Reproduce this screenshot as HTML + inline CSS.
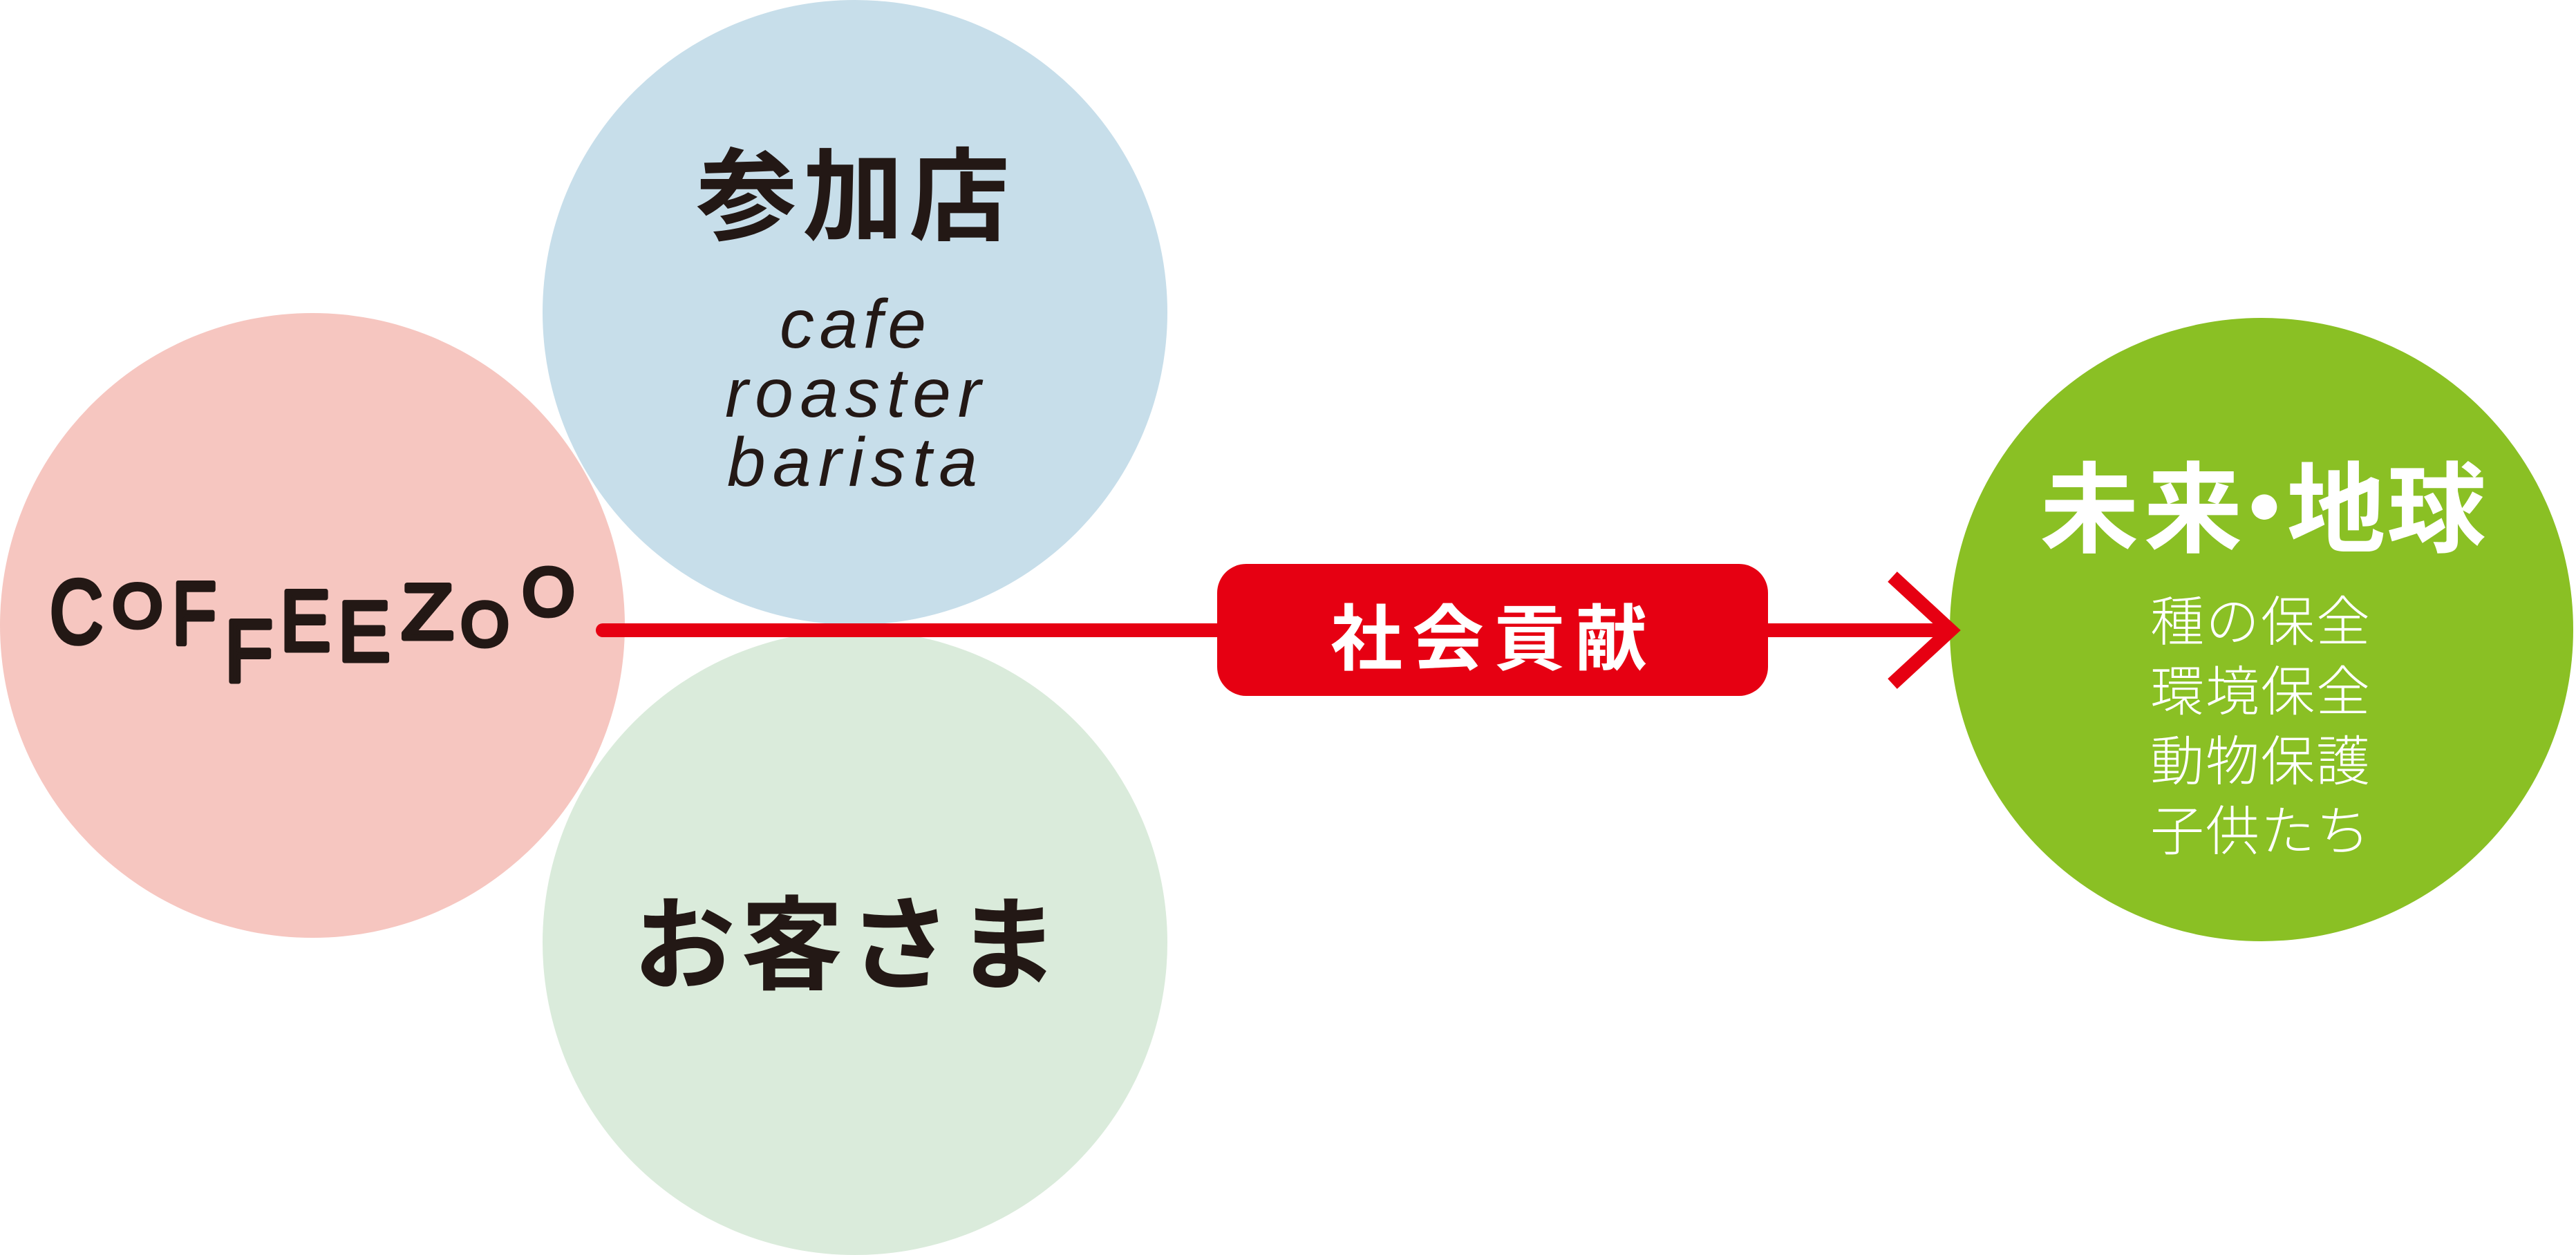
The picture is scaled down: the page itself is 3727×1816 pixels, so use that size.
<!DOCTYPE html>
<html>
<head>
<meta charset="utf-8">
<style>
  html, body { margin:0; padding:0; background:#ffffff; }
  body { width:3727px; height:1816px; overflow:hidden; }
  svg { display:block; }
  .jp { font-family: "Liberation Sans", "Noto Sans CJK JP", sans-serif; }
  .lat { font-family: "Liberation Sans", sans-serif; }
</style>
</head>
<body>
<svg width="3727" height="1816" viewBox="0 0 3727 1816" xmlns="http://www.w3.org/2000/svg">
  <rect x="0" y="0" width="3727" height="1816" fill="#ffffff"/>

  <!-- circles -->
  <circle cx="1237" cy="452" r="452" fill="#c7deea"/>
  <circle cx="452" cy="905" r="452" fill="#f6c6c0"/>
  <circle cx="1237" cy="1364" r="452" fill="#daebdb"/>
  <circle cx="3272" cy="911" r="451" fill="#8ac024"/>

  <!-- 参加店 -->
  <text class="jp" x="1238" y="336" font-size="146" font-weight="700" fill="#231815" text-anchor="middle" letter-spacing="8">参加店</text>

  <!-- cafe roaster barista -->
  <g class="lat" font-size="100" font-style="italic" fill="#231815" text-anchor="middle">
    <text x="1234" y="503" textLength="212" lengthAdjust="spacing">cafe</text>
    <text x="1234" y="603" textLength="370" lengthAdjust="spacing">roaster</text>
    <text x="1233" y="703" textLength="362" lengthAdjust="spacing">barista</text>
  </g>

  <!-- COFFEEZOO handwritten-style letters -->
  <g class="lat" font-weight="400" fill="#231815" stroke="#231815" stroke-width="7" stroke-linejoin="round" text-anchor="middle">
    <text font-size="130" transform="translate(110.5,930) scale(0.82,1)">C</text>
    <text font-size="88" transform="translate(199,907) scale(1.05,1)">O</text>
    <text font-size="128" transform="translate(281,932) scale(0.82,1)">F</text>
    <text font-size="127" transform="translate(360,986) scale(0.9,1)">F</text>
    <text font-size="124" transform="translate(442,941) scale(0.88,1)">E</text>
    <text font-size="123" transform="translate(527,956) scale(0.92,1)">E</text>
    <text font-size="112" transform="translate(618.5,924) scale(1.1,1)">Z</text>
    <text font-size="89" transform="translate(701.5,934) scale(1.0,1)">O</text>
    <text font-size="97" transform="translate(793.5,890) scale(1.0,1)">O</text>
  </g>

  <!-- お客さま -->
  <text class="jp" x="1228" y="1420" font-size="148" font-weight="700" fill="#231815" text-anchor="middle" letter-spacing="8">お客さま</text>

  <!-- red connector line -->
  <rect x="862" y="902" width="1962" height="20" rx="10" ry="10" fill="#e60012"/>

  <!-- red label box -->
  <rect x="1761" y="816" width="797" height="191" rx="42" ry="42" fill="#e60012"/>
  <text class="jp" x="2161" y="961" font-size="104" font-weight="700" fill="#ffffff" text-anchor="middle" letter-spacing="14">社会貢献</text>

  <!-- chevron arrowhead -->
  <polyline points="2738,834.5 2822,912 2738,989.5" fill="none" stroke="#e60012" stroke-width="20" stroke-linejoin="miter" stroke-miterlimit="10" stroke-linecap="butt"/>

  <!-- 未来・地球 -->
  <g class="jp" font-size="143" font-weight="700" fill="#ffffff" text-anchor="middle">
    <text x="3023" y="788">未</text>
    <text x="3173" y="788">来</text>
    <text x="3276" y="788">・</text>
    <text x="3380" y="788">地</text>
    <text x="3525" y="788">球</text>
  </g>

  <!-- sub list -->
  <g class="jp" font-size="78" font-weight="300" fill="#ffffff" text-anchor="middle" letter-spacing="2">
    <text x="3271" y="927">種の保全</text>
    <text x="3271" y="1028">環境保全</text>
    <text x="3271" y="1129">動物保護</text>
    <text x="3271" y="1230">子供たち</text>
  </g>
</svg>
</body>
</html>
